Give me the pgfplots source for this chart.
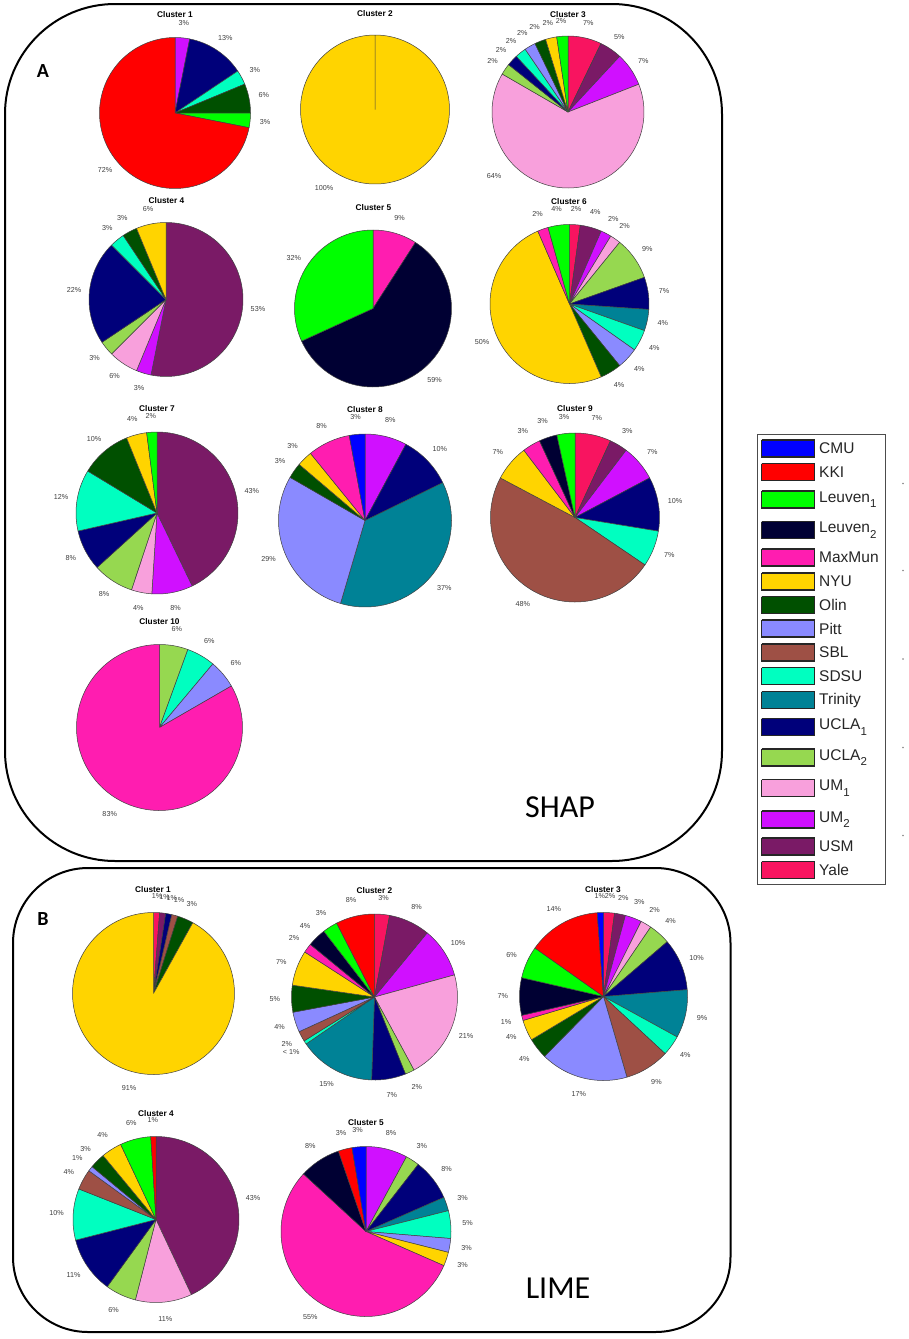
\documentclass[border=0pt]{standalone}
\usepackage{fontspec}
\setmainfont{Liberation Sans}
\newfontfamily\calibri{Carlito}
\usepackage{pgfplots}
\pgfplotsset{compat=1.18}

\definecolor{CMU}{HTML}{0000FF}
\definecolor{KKI}{HTML}{FF0000}
\definecolor{LeuvenA}{HTML}{00FF00}
\definecolor{LeuvenB}{HTML}{000033}
\definecolor{MaxMun}{HTML}{FF1DB0}
\definecolor{NYU}{HTML}{FFD400}
\definecolor{Olin}{HTML}{005000}
\definecolor{Pitt}{HTML}{8A8AFF}
\definecolor{SBL}{HTML}{9E5045}
\definecolor{SDSU}{HTML}{00FFC0}
\definecolor{Trinity}{HTML}{008296}
\definecolor{UCLAA}{HTML}{00007A}
\definecolor{UCLAB}{HTML}{96D850}
\definecolor{UMA}{HTML}{F8A0DC}
\definecolor{UMB}{HTML}{D010FF}
\definecolor{USM}{HTML}{7A1A66}
\definecolor{Yale}{HTML}{F81460}

\tikzset{
  pct/.style={font=\fontsize{7.2}{8}\selectfont,text=black!75,inner sep=0pt},
  ttl/.style={font=\bfseries\fontsize{8.3}{9}\selectfont,inner sep=0pt},
}

% cx, cy, radius, title x/y, title, slices clockwise from the top: site/count/label
\newcommand{\pie}[6]{%
  \gdef\total{0}%
  \foreach \col/\val/\lab in {#6} {%
    \pgfmathsetmacro\tmp{\total+\val}\global\let\total\tmp}%
  \gdef\cum{0}%
  \foreach \col/\val/\lab in {#6} {%
    \pgfmathsetmacro\anga{\cum/\total*360}%
    \pgfmathsetmacro\tmp{\cum+\val}\global\let\cum\tmp
    \pgfmathsetmacro\angb{\cum/\total*360}%
    \pgfmathtruncatemacro\nseg{ceil((\angb-\anga)/3)+1}%
    \pgfmathsetmacro\dang{(\angb-\anga)/\nseg}%
    \gdef\pts{(#1,#2)}%
    \foreach \i in {0,...,\nseg} {%
      \pgfmathsetmacro\ang{\anga+\dang*\i}%
      \pgfmathsetmacro\px{#1+#3*sin(\ang)}%
      \pgfmathsetmacro\py{#2-#3*cos(\ang)}%
      \xdef\pts{\pts (\px,\py)}}%
    \edef\cmd{\noexpand\addplot[fill=\col,draw=black!75,line width=0.5pt,line join=round]
      coordinates {\pts (#1,#2)};}%
    \cmd
    \pgfmathsetmacro\ang{(\anga+\angb)/2}%
    \pgfmathsetmacro\px{#1+1.2*#3*sin(\ang)}%
    \pgfmathsetmacro\py{#2-1.2*#3*cos(\ang)}%
    \edef\cmd{\noexpand\node[pct] at (axis cs:\px,\py) {\lab};}%
    \cmd
  }%
  \node[ttl] at (axis cs:#4) {#5};%
}

% legend row: y of the centre, site, text
\newcommand{\legrow}[3]{%
  \pgfmathsetmacro\ya{#1-8.5}\pgfmathsetmacro\yb{#1+8.5}%
  \edef\cmd{\noexpand\addplot[fill=#2,draw=black!85,line width=1.1pt]
    coordinates {(761.5,\ya)(814.5,\ya)(814.5,\yb)(761.5,\yb)(761.5,\ya)};}%
  \cmd
  \node[anchor=west,font=\fontsize{15.5}{16}\selectfont,text=black!85,inner sep=0pt] at (axis cs:819,#1) {#3};%
}
\newcommand{\low}[1]{\raisebox{-5.5pt}{\fontsize{11.5}{12}\selectfont #1}}

\begin{document}
\begin{tikzpicture}
\begin{axis}[
    scale only axis,
    width=908pt, height=1339pt,
    xmin=0, xmax=908, ymin=0, ymax=1339,
    y dir=reverse,
    hide axis,
    clip=false,
  ]
  \path[fill=white] (axis cs:0,0) rectangle (axis cs:908,1339);

  % panel A, SHAP
  \draw[line width=2pt,rounded corners=110pt] (axis cs:5,4) rectangle (axis cs:722,861);
  \node[font=\calibri\bfseries\fontsize{20}{22}\selectfont] at (axis cs:43,71.5) {A};
  \node[font=\calibri\fontsize{32}{34}\selectfont] at (axis cs:560,807) {SHAP};

  \pie{175}{113}{75.5}{175,15}{Cluster 1}{UMB/1/3\%,UCLAA/4/13\%,SDSU/1/3\%,Olin/2/6\%,LeuvenA/1/3\%,KKI/23/72\%}
  \pie{375}{109.5}{74.5}{375,14}{Cluster 2}{NYU/1/}
  \node[pct] at (axis cs:324,188) {100\%};
  \pie{568}{112}{76}{568,14.5}{Cluster 3}{Yale/3/7\%,USM/2/5\%,UMB/3/7\%,UMA/27/,UCLAB/1/2\%,UCLAA/1/2\%,SDSU/1/2\%,Pitt/1/2\%,Olin/1/2\%,NYU/1/2\%,LeuvenA/1/2\%}
  \node[pct] at (axis cs:494,176) {64\%};
  \pie{166}{299.5}{77}{166.5,200.5}{Cluster 4}{USM/17/53\%,UMB/1/3\%,UMA/2/6\%,UCLAB/1/3\%,UCLAA/7/22\%,SDSU/1/3\%,Olin/1/3\%,NYU/2/6\%}
  \pie{373}{308.5}{78.5}{373.5,207.5}{Cluster 5}{MaxMun/2/9\%,LeuvenB/13/59\%,LeuvenA/7/32\%}
  \pie{569.5}{304}{79.5}{569,202}{Cluster 6}{Yale/1/2\%,USM/2/4\%,UMB/1/2\%,UMA/1/2\%,UCLAB/4/9\%,UCLAA/3/7\%,Trinity/2/4\%,SDSU/2/4\%,Pitt/2/4\%,Olin/2/4\%,NYU/23/50\%,MaxMun/1/2\%,LeuvenA/2/4\%}
  \pie{157}{513}{81}{157,408.5}{Cluster 7}{USM/21/43\%,UMB/4/8\%,UMA/2/4\%,UCLAB/4/8\%,UCLAA/4/8\%,SDSU/6/12\%,Olin/5/10\%,NYU/2/4\%,LeuvenA/1/2\%}
  \pie{365}{520.5}{86.5}{365,409.5}{Cluster 8}{UMB/7.8/8\%,UCLAA/9.9/10\%,Trinity/36.6/37\%,Pitt/28.6/29\%,Olin/2.9/3\%,NYU/2.9/3\%,MaxMun/7.9/8\%,CMU/2.9/3\%}
  \pie{575}{517.5}{84.5}{575,409}{Cluster 9}{Yale/2/7\%,USM/1/3\%,UMB/2/7\%,UCLAA/3/10\%,SDSU/2/7\%,SBL/14/48\%,NYU/2/7\%,MaxMun/1/3\%,LeuvenB/1/3\%,LeuvenA/1/3\%}
  \pie{159.5}{727.5}{83}{159.5,622}{Cluster 10}{UCLAB/1/6\%,SDSU/1/6\%,Pitt/1/6\%,MaxMun/15/83\%}

  % panel B, LIME
  \draw[line width=2pt,rounded corners=75pt] (axis cs:13,868) rectangle (axis cs:730.5,1332);
  \node[font=\calibri\bfseries\fontsize{20}{22}\selectfont] at (axis cs:43,919) {B};
  \node[font=\calibri\fontsize{32}{34}\selectfont] at (axis cs:558,1288) {LIME};

  \pie{153.5}{993.5}{81}{153,890}{Cluster 1}{Yale/1.2/1\%,USM/1.2/1\%,UCLAA/1.2/1\%,SBL/1.2/1\%,Olin/3.2/3\%,NYU/91.2/91\%}
  \pie{374.5}{997}{83}{374.5,890.5}{Cluster 2}{Yale/2.9/3\%,USM/8/8\%,UMB/9.7/10\%,UMA/21.3/21\%,UCLAB/1.8/2\%,UCLAA/6.6/7\%,Trinity/14.8/15\%,SDSU/0.7/< 1\%,SBL/2/2\%,Pitt/3.9/4\%,Olin/5.2/5\%,NYU/6.8/7\%,MaxMun/1.8/2\%,LeuvenB/3.6/4\%,LeuvenA/2.9/3\%,KKI/7.5/8\%}
  \pie{603.5}{996.5}{84}{603,889.5}{Cluster 3}{Yale/2.1/2\%,USM/2.1/2\%,UMB/3.2/3\%,UMA/2.1/2\%,UCLAB/4.2/4\%,UCLAA/10/10\%,Trinity/9.3/9\%,SDSU/3.9/4\%,SBL/8.6/9\%,Pitt/16.9/17\%,Olin/4/4\%,NYU/4/4\%,MaxMun/1/1\%,LeuvenB/7.2/7\%,LeuvenA/6.2/6\%,KKI/14/14\%,CMU/1.2/1\%}
  \pie{156}{1219.5}{83}{156,1113.5}{Cluster 4}{USM/43/43\%,UMA/11/11\%,UCLAB/6/6\%,UCLAA/11/11\%,SDSU/10/10\%,SBL/4/4\%,Pitt/1/1\%,Olin/3/3\%,NYU/4/4\%,LeuvenA/6/6\%,KKI/1/1\%}
  \pie{366}{1231.5}{85}{366,1122.5}{Cluster 5}{UMB/3/8\%,UCLAB/1/3\%,UCLAA/3/8\%,Trinity/1/3\%,SDSU/2/5\%,Pitt/1/3\%,NYU/1/3\%,MaxMun/21/55\%,LeuvenB/3/8\%,KKI/1/3\%,CMU/1/3\%}

  % legend
  \draw[black!70,line width=0.8pt,fill=white] (axis cs:757,434.5) rectangle (axis cs:885.5,884.5);
  \legrow{448.5}{CMU}{CMU}
  \legrow{472}{KKI}{KKI}
  \legrow{499.5}{LeuvenA}{Leuven\low{1}}
  \legrow{530}{LeuvenB}{Leuven\low{2}}
  \legrow{557.5}{MaxMun}{MaxMun}
  \legrow{581.5}{NYU}{NYU}
  \legrow{605}{Olin}{Olin}
  \legrow{628.5}{Pitt}{Pitt}
  \legrow{652.5}{SBL}{SBL}
  \legrow{676}{SDSU}{SDSU}
  \legrow{700}{Trinity}{Trinity}
  \legrow{727}{UCLAA}{UCLA\low{1}}
  \legrow{757.5}{UCLAB}{UCLA\low{2}}
  \legrow{788}{UMA}{UM\low{1}}
  \legrow{819.5}{UMB}{UM\low{2}}
  \legrow{846.5}{USM}{USM}
  \legrow{870}{Yale}{Yale}

  % stray tick dots at the right edge
  \addplot[only marks,mark=*,mark size=0.5pt,black!45] coordinates {(903,483.5)(903,570.5)(903,659)(903,747.5)(903,835.5)};
\end{axis}
\end{tikzpicture}
\end{document}
